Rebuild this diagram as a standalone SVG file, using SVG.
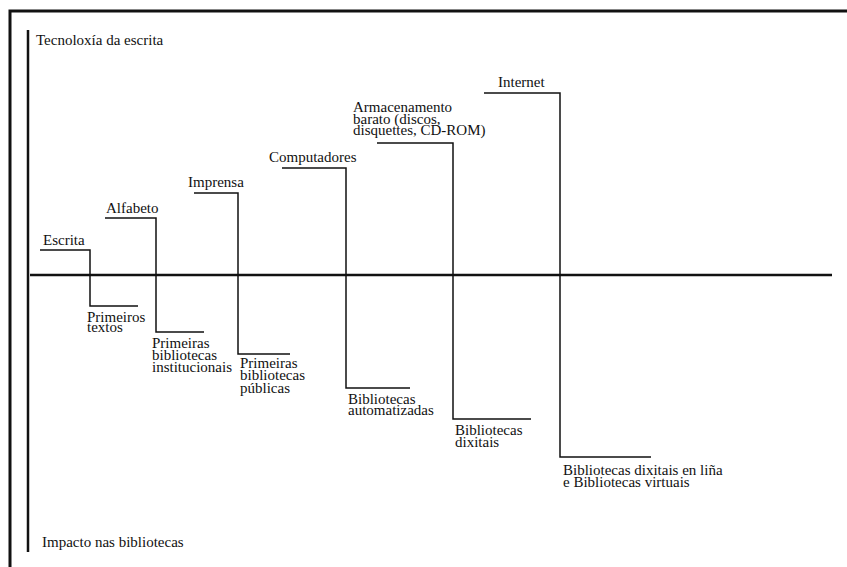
<svg xmlns="http://www.w3.org/2000/svg" width="847" height="567" viewBox="0 0 847 567">
<style>
text{font-family:"Liberation Serif","Times New Roman",serif;font-size:15px;fill:#111}
.c{fill:none;stroke:#111;stroke-width:1.5}
.axis{fill:none;stroke:#111;stroke-width:2.5}
.frame{fill:none;stroke:#111;stroke-width:3}
</style>
<rect width="847" height="567" fill="#fff"/>
<path class="frame" d="M10,567 V11 H847"/>
<g id="axes">
<path class="axis" d="M28,30 V552"/>
<path class="axis" d="M30,275 H832"/>
</g>
<g id="connectors">
<path class="c" d="M40,250 H90 V306 H138"/>
<path class="c" d="M105,218 H156 V332 H204"/>
<path class="c" d="M194,193 H238 V354 H290"/>
<path class="c" d="M282,168 H346 V388 H410"/>
<path class="c" d="M377,143 H453 V419 H531"/>
<path class="c" d="M484,93 H560 V457 H651"/>
</g>
<g id="axis-top"><text x="36" y="45">Tecnoloxía da escrita</text></g>
<g id="axis-bottom"><text x="42" y="547">Impacto nas bibliotecas</text></g>
<g id="escrita"><text x="43" y="245">Escrita</text></g>
<g id="alfabeto"><text x="106" y="213">Alfabeto</text></g>
<g id="imprensa"><text x="188" y="187">Imprensa</text></g>
<g id="computadores"><text x="269" y="162">Computadores</text></g>
<g id="armacenamento"><text x="353" y="112">Armacenamento</text><text x="353" y="123.5">barato (discos,</text><text x="353" y="135">disquettes, CD-ROM)</text></g>
<g id="internet"><text x="498" y="87">Internet</text></g>
<g id="primeiros-textos"><text x="87" y="322">Primeiros</text><text x="87" y="332">textos</text></g>
<g id="primeiras-inst"><text x="152" y="348">Primeiras</text><text x="152" y="360">bibliotecas</text><text x="152" y="372">institucionais</text></g>
<g id="primeiras-pub"><text x="240" y="368">Primeiras</text><text x="240" y="380">bibliotecas</text><text x="240" y="393">públicas</text></g>
<g id="automatizadas"><text x="348" y="404">Bibliotecas</text><text x="348" y="415">automatizadas</text></g>
<g id="dixitais"><text x="455" y="435">Bibliotecas</text><text x="455" y="447">dixitais</text></g>
<g id="virtuais"><text x="563" y="475">Bibliotecas dixitais en liña</text><text x="563" y="487">e Bibliotecas virtuais</text></g>
</svg>
